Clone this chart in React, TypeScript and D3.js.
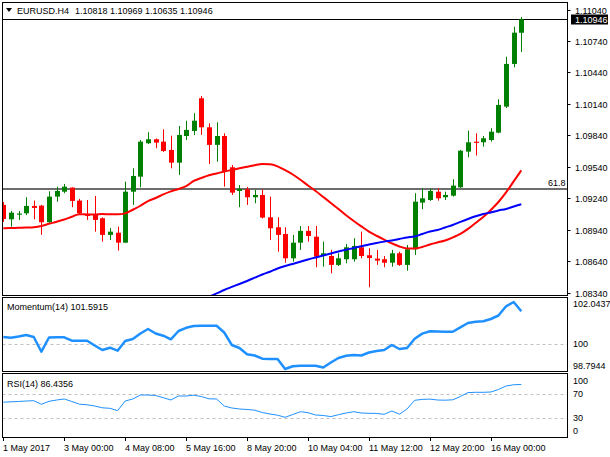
import * as d3 from 'd3';
import { useEffect, useRef } from 'react';

// EURUSD H4 candles
const barOpen = [1.09177, 1.09040, 1.09086, 1.09097, 1.09167, 1.09170, 1.09012, 1.09256, 1.09303, 1.09342,
    1.09218, 1.09091, 1.09081, 1.09050, 1.08891, 1.08912, 1.08817, 1.09303, 1.09446, 1.09765,
    1.09803, 1.09780, 1.09701, 1.09580, 1.09834, 1.09882, 1.10194, 1.09917, 1.09749, 1.09834,
    1.09536, 1.09310, 1.09326, 1.09250, 1.09272, 1.09059, 1.08964, 1.08900, 1.08668, 1.08817,
    1.08929, 1.08874, 1.08697, 1.08690, 1.08605, 1.08659, 1.08659, 1.08773, 1.08697, 1.08665,
    1.08659, 1.08626, 1.08716, 1.08605, 1.08754, 1.09199, 1.09224, 1.09303, 1.09250, 1.09265,
    1.09345, 1.09685, 1.09780, 1.09774, 1.09796, 1.09866, 1.10114, 1.10521, 1.10818];
const barHigh = [1.09205, 1.09119, 1.09119, 1.09250, 1.09218, 1.09177, 1.09307, 1.09351, 1.09377, 1.09345,
    1.09234, 1.09224, 1.09262, 1.09059, 1.08957, 1.08970, 1.09399, 1.09526, 1.09796, 1.09870,
    1.09810, 1.09898, 1.09837, 1.09930, 1.09980, 1.10051, 1.10216, 1.09955, 1.09965, 1.09860,
    1.09558, 1.09367, 1.09349, 1.09320, 1.09326, 1.09256, 1.09059, 1.08964, 1.08891, 1.08976,
    1.08976, 1.08976, 1.08827, 1.08748, 1.08716, 1.08805, 1.08859, 1.08922, 1.08764, 1.08748,
    1.08690, 1.08748, 1.08731, 1.08795, 1.09288, 1.09336, 1.09336, 1.09336, 1.09303, 1.09422,
    1.09701, 1.09885, 1.09860, 1.09834, 1.09908, 1.10184, 1.10590, 1.10876, 1.10969];
const barLow = [1.09015, 1.08970, 1.09034, 1.09081, 1.09040, 1.08891, 1.09000, 1.09208, 1.09288, 1.09155,
    1.09081, 1.09034, 1.08922, 1.08827, 1.08843, 1.08741, 1.08814, 1.09177, 1.09345, 1.09758,
    1.09717, 1.09682, 1.09526, 1.09463, 1.09796, 1.09844, 1.09844, 1.09567, 1.09589, 1.09351,
    1.09272, 1.09155, 1.09177, 1.09193, 1.09048, 1.08843, 1.08731, 1.08626, 1.08636, 1.08748,
    1.08827, 1.08583, 1.08588, 1.08525, 1.08595, 1.08621, 1.08636, 1.08668, 1.08392, 1.08605,
    1.08583, 1.08588, 1.08595, 1.08550, 1.08700, 1.09136, 1.09215, 1.09218, 1.09224, 1.09256,
    1.09339, 1.09631, 1.09647, 1.09732, 1.09780, 1.09860, 1.10101, 1.10489, 1.10635];
const barClose = [1.09043, 1.09103, 1.09095, 1.09167, 1.09148, 1.09012, 1.09256, 1.09310, 1.09351, 1.09215,
    1.09097, 1.09072, 1.09034, 1.08891, 1.08922, 1.08817, 1.09303, 1.09453, 1.09780, 1.09803,
    1.09771, 1.09691, 1.09580, 1.09844, 1.09892, 1.09980, 1.09917, 1.09749, 1.09834, 1.09494,
    1.09294, 1.09329, 1.09250, 1.09272, 1.09056, 1.08954, 1.08891, 1.08668, 1.08817, 1.08929,
    1.08881, 1.08684, 1.08716, 1.08605, 1.08668, 1.08773, 1.08786, 1.08690, 1.08671, 1.08646,
    1.08626, 1.08716, 1.08605, 1.08754, 1.09208, 1.09240, 1.09310, 1.09240, 1.09272, 1.09361,
    1.09694, 1.09774, 1.09771, 1.09812, 1.09875, 1.10130, 1.10521, 1.10819, 1.10946];

// moving averages
const redMa = [1.08954, 1.08957, 1.08959, 1.08962, 1.08965, 1.08976, 1.08997, 1.09016, 1.09038, 1.09064,
    1.09089, 1.09086, 1.09086, 1.09090, 1.09088, 1.09087, 1.09096, 1.09131, 1.09169, 1.09213,
    1.09243, 1.09277, 1.09306, 1.09329, 1.09355, 1.09405, 1.09434, 1.09460, 1.09477, 1.09495,
    1.09510, 1.09526, 1.09541, 1.09555, 1.09566, 1.09564, 1.09544, 1.09508, 1.09467, 1.09417,
    1.09362, 1.09310, 1.09253, 1.09196, 1.09138, 1.09079, 1.09024, 1.08972, 1.08923, 1.08883,
    1.08846, 1.08811, 1.08781, 1.08762, 1.08761, 1.08776, 1.08800, 1.08819, 1.08838, 1.08867,
    1.08900, 1.08948, 1.09005, 1.09062, 1.09129, 1.09205, 1.09296, 1.09401, 1.09506];
const blueMaStart = 26;
const blueMa = [1.08271, 1.08301, 1.08333, 1.08366, 1.08395, 1.08423, 1.08452, 1.08483, 1.08514, 1.08540,
    1.08571, 1.08595, 1.08614, 1.08635, 1.08657, 1.08676, 1.08695, 1.08714, 1.08733, 1.08749,
    1.08767, 1.08783, 1.08800, 1.08814, 1.08827, 1.08838, 1.08852, 1.08867, 1.08876, 1.08900,
    1.08924, 1.08938, 1.08962, 1.08986, 1.09015, 1.09043, 1.09069, 1.09091, 1.09105, 1.09124,
    1.09138, 1.09162, 1.09183];

const momentum = [100.346, 100.312, 100.371, 100.443, 100.346, 99.633, 100.322, 100.332, 100.332, 100.167,
    100.167, 100.167, 99.934, 99.716, 99.827, 99.682, 100.152, 100.249, 100.516, 100.734,
    100.516, 100.409, 100.235, 100.637, 100.793, 100.880, 100.894, 100.894, 100.894, 100.565,
    99.958, 99.813, 99.507, 99.449, 99.294, 99.279, 99.279, 98.7944, 98.930, 98.954,
    98.954, 98.954, 98.867, 99.110, 99.328, 99.435, 99.473, 99.449, 99.595, 99.667,
    99.716, 99.958, 99.764, 99.813, 100.264, 100.511, 100.623, 100.613, 100.603, 100.603,
    100.817, 101.025, 101.088, 101.108, 101.219, 101.389, 101.835, 102.0437, 101.5915];

const rsi = [56.83, 57.5, 58.0, 58.83, 59.33, 53.33, 58.33, 60.5, 62.17, 58.0,
    53.5, 52.5, 50.5, 47.5, 46.67, 42.67, 58.83, 62.17, 68.83, 68.83,
    68.0, 64.33, 60.5, 67.17, 67.17, 68.5, 66.33, 62.5, 62.17, 50.5,
    47.17, 45.5, 44.67, 43.5, 39.67, 37.17, 35.17, 31.67, 36.33, 41.0,
    39.33, 35.5, 34.67, 32.83, 36.0, 38.83, 41.0, 38.83, 38.33, 38.17,
    36.67, 42.17, 36.83, 45.5, 60.0, 61.5, 62.0, 60.5, 60.17, 60.83,
    66.33, 72.83, 73.33, 73.33, 73.83, 78.0, 83.83, 85.9, 86.4356];

const priceTicks = [1.08340, 1.08640, 1.08940, 1.09240, 1.09540, 1.09840, 1.10140, 1.10440, 1.10740, 1.11040];
const fibLabel = '61.8';
const fibPrice = 1.09329;
const momentumRange = [98.7944, 102.0437];
const momentumLevel = 100;
const rsiLevels = [70, 30];
const rsiLabels = [100, 70, 30, 0];
const dateLabels = ['1 May 2017', '3 May 00:00', '4 May 08:00', '5 May 16:00', '8 May 20:00',
    '10 May 04:00', '11 May 12:00', '12 May 20:00', '16 May 00:00'];
const dateStep = 8;

const FONT = '"Liberation Sans", Arial, sans-serif';

function App() {
    const svgRef = useRef<SVGSVGElement>(null);

    useEffect(() => {
        const svg = d3.select(svgRef.current);
        svg.selectAll('*').remove();

        const left = 2.5, right = 567.5;
        const mainTop = 2.5, mainBottom = 295.5;
        const momTop = 297.5, momBottom = 371.5;
        const rsiTop = 373.5, rsiBottom = 437.5;
        const n = barClose.length;

        const x = d3.scaleLinear().domain([0, n - 1]).range([3.3, 521.3]);
        const y = d3.scaleLinear().domain([1.0834, 1.1104]).range([292.7, 9.5]);
        const yMom = d3.scaleLinear().domain(momentumRange).range([369, 302]);
        const yRsi = d3.scaleLinear().domain([0, 100]).range([436.3, 376.3]);
        const px = (i: number) => Math.round(x(i));

        const defs = svg.append('defs');
        const clips: [string, number, number][] = [['clipMain', mainTop, mainBottom], ['clipMom', momTop, momBottom], ['clipRsi', rsiTop, rsiBottom]];
        clips.forEach(([id, t, b]) => {
            defs.append('clipPath').attr('id', id).append('rect')
                .attr('x', left).attr('y', t).attr('width', right - left).attr('height', b - t);
        });

        svg.append('rect').attr('width', 610).attr('height', 457).attr('fill', '#fff');

        // ---- main panel
        const main = svg.append('g').attr('clip-path', 'url(#clipMain)');

        main.append('line')
            .attr('x1', left).attr('x2', right)
            .attr('y1', y(fibPrice)).attr('y2', y(fibPrice))
            .attr('stroke', '#6e6e6e').attr('stroke-width', 2);
        main.append('text')
            .attr('x', right - 2).attr('y', y(fibPrice) - 3)
            .attr('text-anchor', 'end')
            .attr('font-family', FONT).attr('font-size', 9)
            .text(fibLabel);

        const lastClose = barClose[n - 1];
        main.append('line')
            .attr('x1', left).attr('x2', right)
            .attr('y1', Math.round(y(lastClose)) + 0.5).attr('y2', Math.round(y(lastClose)) + 0.5)
            .attr('stroke', '#000');

        const candles = main.append('g');
        d3.range(n).forEach(i => {
            const up = barClose[i] >= barOpen[i];
            const color = up ? '#008000' : '#ff0000';
            candles.append('line')
                .attr('x1', px(i) + 0.5).attr('x2', px(i) + 0.5)
                .attr('y1', y(barHigh[i])).attr('y2', y(barLow[i]))
                .attr('stroke', color);
            const top = y(Math.max(barOpen[i], barClose[i]));
            const bottom = y(Math.min(barOpen[i], barClose[i]));
            candles.append('rect')
                .attr('x', px(i) - 2).attr('width', 5)
                .attr('y', top).attr('height', Math.max(1.2, bottom - top))
                .attr('fill', color);
        });

        const maLine = d3.line<number>()
            .x((_, i) => x(i))
            .y(d => y(d))
            .curve(d3.curveMonotoneX);
        main.append('path')
            .datum(redMa)
            .attr('fill', 'none').attr('stroke', '#ff0000').attr('stroke-width', 2)
            .attr('d', maLine);

        const blueLine = d3.line<number>()
            .x((_, i) => x(i + blueMaStart))
            .y(d => y(d))
            .curve(d3.curveMonotoneX);
        main.append('path')
            .datum(blueMa)
            .attr('fill', 'none').attr('stroke', '#0000ff').attr('stroke-width', 2)
            .attr('d', blueLine);

        // header
        svg.append('path').attr('d', 'M6,8 L12,8 L9,12 Z').attr('fill', '#000');
        svg.append('text')
            .attr('x', 17).attr('y', 13.5)
            .attr('font-family', FONT).attr('font-size', 9)
            .text('EURUSD.H4');
        svg.append('text')
            .attr('x', 75).attr('y', 13.5)
            .attr('font-family', FONT).attr('font-size', 9)
            .text([barOpen[n - 1], barHigh[n - 1], barLow[n - 1], barClose[n - 1]].map(v => v.toFixed(5)).join(' '));

        // price axis
        const axis = svg.append('g').attr('font-family', FONT).attr('font-size', 9);
        priceTicks.forEach(p => {
            const yy = Math.round(y(p)) + 0.5;
            axis.append('line').attr('x1', right).attr('x2', right + 3).attr('y1', yy).attr('y2', yy).attr('stroke', '#000');
            axis.append('text').attr('x', 575).attr('y', yy).attr('dy', '0.35em').text(p.toFixed(5));
        });
        const cy = Math.round(y(lastClose)) + 0.5;
        axis.append('rect').attr('x', 571).attr('y', cy - 5).attr('width', 37).attr('height', 10).attr('fill', '#000');
        axis.append('text').attr('x', 575).attr('y', cy).attr('dy', '0.35em').attr('fill', '#fff').text(lastClose.toFixed(5));

        // ---- momentum panel
        const mom = svg.append('g').attr('clip-path', 'url(#clipMom)');
        mom.append('line')
            .attr('x1', left).attr('x2', right)
            .attr('y1', Math.round(yMom(momentumLevel)) + 0.5).attr('y2', Math.round(yMom(momentumLevel)) + 0.5)
            .attr('stroke', '#c0c0c0').attr('stroke-dasharray', '3,3');
        mom.append('path')
            .datum(momentum)
            .attr('fill', 'none').attr('stroke', '#1e90ff').attr('stroke-width', 2.5)
            .attr('stroke-linejoin', 'round')
            .attr('d', d3.line<number>().x((_, i) => x(i)).y(d => yMom(d)));
        svg.append('text')
            .attr('x', 7).attr('y', 307).attr('dy', '0.35em')
            .attr('font-family', FONT).attr('font-size', 9)
            .text(`Momentum(14) ${momentum[n - 1].toFixed(4)}`);
        axis.append('text').attr('x', 573).attr('y', yMom(momentumRange[1]) + 2).attr('dy', '0.35em').text(momentumRange[1].toFixed(4));
        axis.append('text').attr('x', 573).attr('y', yMom(momentumLevel)).attr('dy', '0.35em').text(String(momentumLevel));
        axis.append('text').attr('x', 573).attr('y', yMom(momentumRange[0]) - 3).attr('dy', '0.35em').text(momentumRange[0].toFixed(4));

        // ---- RSI panel
        const rs = svg.append('g').attr('clip-path', 'url(#clipRsi)');
        rsiLevels.forEach(l => {
            rs.append('line')
                .attr('x1', left).attr('x2', right)
                .attr('y1', Math.round(yRsi(l)) + 0.5).attr('y2', Math.round(yRsi(l)) + 0.5)
                .attr('stroke', '#c0c0c0').attr('stroke-dasharray', '3,3');
        });
        rs.append('path')
            .datum(rsi)
            .attr('fill', 'none').attr('stroke', '#1e90ff').attr('stroke-width', 1)
            .attr('d', d3.line<number>().x((_, i) => x(i)).y(d => yRsi(d)));
        svg.append('text')
            .attr('x', 7).attr('y', 384).attr('dy', '0.35em')
            .attr('font-family', FONT).attr('font-size', 9)
            .text(`RSI(14) ${rsi[n - 1].toFixed(4)}`);
        rsiLabels.forEach(l => {
            const off = l === 100 ? 5 : l === 0 ? -5.5 : 0;
            axis.append('text').attr('x', 573).attr('y', yRsi(l) + off).attr('dy', '0.35em').text(String(l));
        });

        // ---- frames
        const frames: [number, number][] = [[mainTop, mainBottom], [momTop, momBottom], [rsiTop, rsiBottom]];
        frames.forEach(([t, b]) => {
            svg.append('rect')
                .attr('x', left).attr('y', t).attr('width', right - left).attr('height', b - t)
                .attr('fill', 'none').attr('stroke', '#000');
        });

        // ---- time axis
        dateLabels.forEach((label, k) => {
            const xx = px(k * dateStep) + 0.5;
            axis.append('line').attr('x1', xx).attr('x2', xx).attr('y1', rsiBottom).attr('y2', rsiBottom + 3.5).attr('stroke', '#000');
            axis.append('text').attr('x', xx - 0.5).attr('y', 450.5).text(label);
        });

        return () => {
            svg.selectAll('*').remove();
        };
    }, []);

    return (
        <svg ref={svgRef} width={610} height={457} style={{ position: 'absolute', left: 0, top: 0 }} />
    );
}

export default App;
